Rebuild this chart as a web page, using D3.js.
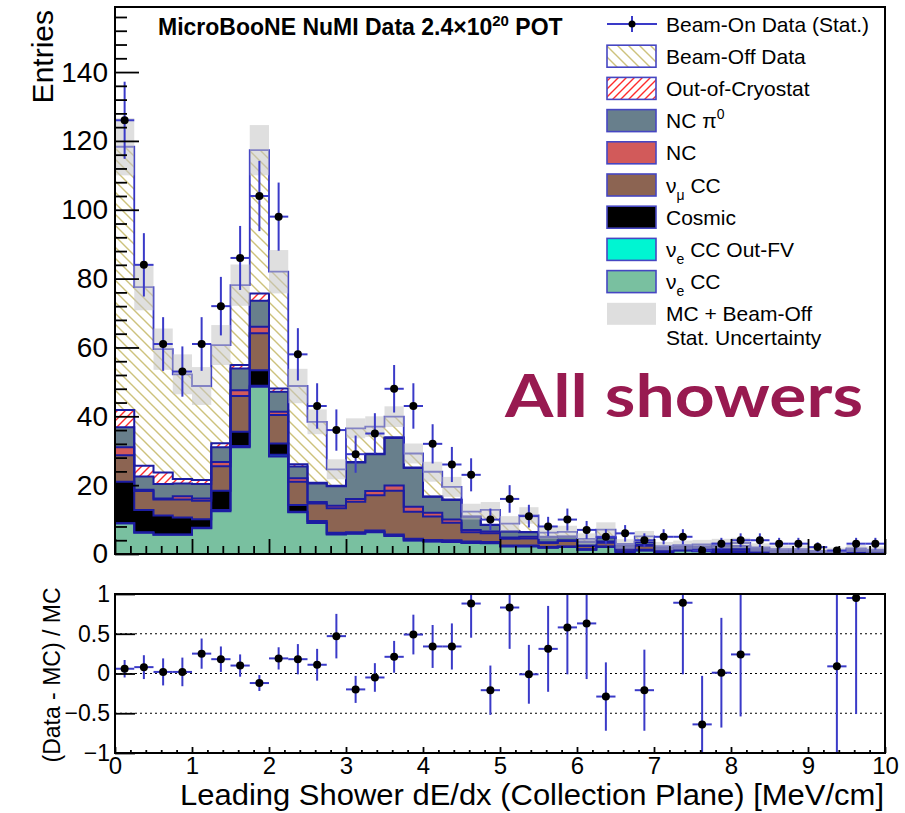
<!DOCTYPE html>
<html><head><meta charset="utf-8">
<script src="https://cdn.jsdelivr.net/npm/d3@7"></script>
<style>body{margin:0;background:#fff}svg{display:block;font-family:"Liberation Sans",Arial,Helvetica,sans-serif}</style>
</head><body><svg id="c" width="905" height="813"></svg>
<script>
// ---------- data (40 bins, 0.25 MeV/cm wide, 0..10) ----------
const xMin = 0, xMax = 10, binWidth = 0.25;
const nueCC      = [8.9,6.2,5.6,5.6,7.5,12.4,31.0,48.6,28.3,12.1,9.0,5.7,5.9,6.3,5.2,3.9,3.6,3.5,3.2,3.1,2.2,2.2,1.8,2.0,1.2,2.0,0.6,1.0,0.5,1.0,0.8,0.6,0.5,0.3,0.3,0.3,0.2,0.2,0.4,0.2];
const nueCCOutFV = [0.0,0.1,0.1,0.1,0.1,0.4,0.4,0.3,0.5,0.2,0.1,0.1,0.1,0.1,0.1,0.1,0.1,0.1,0.1,0.1,0.1,0.1,0.1,0.1,0.1,0.1,0.1,0.1,0.1,0.1,0.1,0.1,0.1,0.1,0.1,0.1,0.1,0.1,0.1,0.1];
const cosmic     = [12.1,6.5,5.5,4.9,2.5,5.6,4.1,4.5,3.3,1.9,0.5,0.4,0.3,0.4,0.4,0.4,0.4,0.4,0.3,0.3,0.2,0.2,0.1,0.1,0.1,0.1,0.1,0.1,0.1,0.1,0.1,0.1,0.1,0.1,0.1,0.1,0.1,0.1,0.1,0.1];
const numuCC     = [7.7,5.5,4.6,5.2,5.4,7.1,10.4,10.7,8.3,6.8,5.1,7.1,8.9,10.3,12.7,7.9,6.8,5.1,2.7,2.5,1.9,2.0,1.2,1.6,0.9,1.1,0.7,1.2,0.5,0.3,0.5,0.6,0.6,0.4,0.3,0.3,0.2,0.2,0.3,0.3];
const nc         = [2.3,0.4,0.3,1.0,0.6,1.2,1.7,1.9,0.9,1.0,0.4,0.7,0.8,1.2,1.5,1.4,1.1,0.9,0.7,0.5,0.4,0.5,0.2,0.2,0.2,0.3,0.2,0.3,0.1,0.1,0.1,0.1,0.1,0.1,0.1,0.1,0.1,0.1,0.1,0.1];
const ncPi0      = [5.8,3.8,4.2,3.7,4.2,4.3,6.3,7.6,5.8,3.4,5.4,5.7,10.6,10.7,13.8,11.3,4.6,5.7,3.8,1.9,1.7,1.3,1.5,1.0,1.0,1.2,0.6,0.8,0.5,0.5,0.5,0.7,0.8,0.4,0.2,0.2,0.1,0.1,0.3,0.2];
const outOfCryo  = [5.0,3.1,3.4,1.3,1.2,1.2,1.0,2.1,1.0,0.7,0.2,0.1,0.1,0.1,0.2,0.1,0.1,0.1,0.1,0.1,0.1,0.1,0.1,0.1,0.1,0.1,0.1,0.1,0.1,0.1,0.1,0.1,0.1,0.1,0.1,0.1,0.0,0.0,0.1,0.1];
const beamOff    = [76.5,51.9,35.8,30.4,27.3,28.5,23.2,41.6,33.9,22.7,17.7,4.8,9.8,7.9,6.0,4.1,7.2,3.7,1.4,4.3,2.2,4.8,1.2,1.3,0.8,2.2,0.5,1.5,0.4,0.4,0.6,0.7,0.9,0.4,0.2,0.2,0.1,0.15,0.2,0.2];
const mcStatErr  = [8.3,6.7,6.0,5.8,5.5,5.8,6.0,7.3,6.3,5.0,3.6,2.9,2.9,3.0,3.0,2.9,2.9,2.9,2.3,2.3,2.2,2.4,1.8,1.8,1.6,2.1,1.4,1.6,1.2,1.3,1.3,1.4,1.5,1.2,1.1,1.1,0.9,0.9,1.0,0.9];
const beamOnData = [126,84,61,53,61,72,86,104,98,58,43,36,29,35,48,43,32,26,23,10,16,11,8,10,7,5,6,4,5,5,1,3,4,4,3,3,2,1,3,3];
const beamOnErr  = [11.2,9.2,7.8,7.3,7.8,8.5,9.3,10.2,9.9,7.6,6.6,6.0,5.4,5.9,6.9,6.6,5.7,5.1,4.8,3.2,4.0,3.3,2.8,3.2,2.6,2.2,2.4,2.0,2.2,2.2,1.0,1.7,2.0,2.0,1.7,1.7,1.4,1.0,1.7,1.7];
const ratioVals  = [0.06,0.08,0.02,0.02,0.25,0.18,0.10,-0.12,0.19,0.18,0.11,0.47,-0.20,-0.05,0.21,0.49,0.34,0.34,0.88,-0.21,0.83,-0.01,0.31,0.58,0.63,-0.29,null,-0.21,null,0.89,-0.64,0.01,0.24,null,null,null,null,0.09,0.95,null];
const ratioErrs  = [0.11,0.15,0.17,0.18,0.19,0.16,0.14,0.10,0.14,0.19,0.20,0.28,0.17,0.18,0.20,0.25,0.27,0.29,0.43,0.31,0.52,0.37,0.54,0.59,0.70,0.43,null,0.51,null,0.90,0.61,0.69,0.78,null,null,null,null,1.2,1.46,null];
const yTopTicks   = [0,20,40,60,80,100,120,140];
const xTicks      = [0,1,2,3,4,5,6,7,8,9,10];
const ratioTicks  = [-1,-0.5,0,0.5,1];
const ratioLabels = ["\u22121","\u22120.5","0","0.5","1"];

const nBins = beamOnData.length;
const edges = d3.range(nBins + 1).map(i => xMin + i * binWidth);

const svg = d3.select("#c");
const defs = svg.append("defs");

// hatch patterns
const pOff = defs.append("pattern").attr("id","hOff").attr("patternUnits","userSpaceOnUse").attr("width",11).attr("height",11);
pOff.append("rect").attr("width",11).attr("height",11).attr("fill","#fff");
pOff.append("path").attr("d","M0,0L11,11M-2,9L2,13M9,-2L13,2").attr("stroke","#cdc27c").attr("stroke-width",1.4);
const pCr = defs.append("pattern").attr("id","hCryo").attr("patternUnits","userSpaceOnUse").attr("width",8).attr("height",8);
pCr.append("rect").attr("width",8).attr("height",8).attr("fill","#fff");
pCr.append("path").attr("d","M0,8L8,0M-2,2L2,-2M6,10L10,6").attr("stroke","#ff2b2b").attr("stroke-width",1.4);

const L = 115, R = 885, T1 = 7, B1 = 554, T2 = 594, B2 = 753;
defs.append("clipPath").attr("id","clipTop").append("rect").attr("x",L).attr("y",T1).attr("width",R-L).attr("height",B1-T1);
defs.append("clipPath").attr("id","clipRat").append("rect").attr("x",L).attr("y",T2).attr("width",R-L).attr("height",B2-T2);

const x = d3.scaleLinear([xMin, xMax], [L, R]);
const y = d3.scaleLinear([0, 158.9], [B1, T1]);
const yr = d3.scaleLinear([-1, 1], [B2, T2]);

// ---------- stack ----------
const keys = ["nueCC","nueCCOutFV","cosmic","numuCC","nc","ncPi0","outOfCryo","beamOff"];
const src = {nueCC, nueCCOutFV, cosmic, numuCC, nc, ncPi0, outOfCryo, beamOff};
const fills = {nueCC:"#79c0a0", nueCCOutFV:"#00f5d2", cosmic:"#000000", numuCC:"#8c6452",
  nc:"#d25a5a", ncPi0:"#687f8c", outOfCryo:"url(#hCryo)", beamOff:"url(#hOff)"};
const table = d3.range(nBins).map(i => { const r = {}; keys.forEach(k => r[k] = src[k][i]); return r; });
const series = d3.stack().keys(keys)(table);

const gTop = svg.append("g").attr("clip-path","url(#clipTop)");
const area = d3.area().x(d => x(d.x)).y0(d => y(d.y0)).y1(d => y(d.y1)).curve(d3.curveStepAfter);
const line = d3.line().x(d => x(d.x)).y(d => y(d.y)).curve(d3.curveStepAfter);

series.forEach(s => {
  const pts = s.map((d, i) => ({x: edges[i], y0: d[0], y1: d[1]}));
  pts.push({x: edges[nBins], y0: s[nBins-1][0], y1: s[nBins-1][1]});
  gTop.append("path").attr("d", area(pts)).attr("fill", fills[s.key]).attr("stroke","none");
});
series.forEach(s => {
  const pts = [{x: edges[0], y: 0}].concat(s.map((d, i) => ({x: edges[i], y: d[1]})));
  pts.push({x: edges[nBins], y: s[nBins-1][1]}); pts.push({x: edges[nBins], y: 0});
  const top = s.key === "beamOff";
  gTop.append("path").attr("d", line(pts)).attr("fill","none")
    .attr("stroke", top ? "#3434c4" : "#1c1ca2").attr("stroke-width", top ? 1.8 : 2);
});

// stat uncertainty band
const totals = series[series.length-1].map(d => d[1]);
gTop.selectAll("rect.unc").data(d3.range(nBins)).join("rect").attr("class","unc")
  .attr("x", i => x(edges[i])).attr("width", i => x(edges[i+1]) - x(edges[i]))
  .attr("y", i => y(totals[i] + mcStatErr[i]))
  .attr("height", i => y(totals[i] - mcStatErr[i]) - y(totals[i] + mcStatErr[i]))
  .attr("fill","#c4c4c4").attr("fill-opacity",0.55);

// data points
const errCol = "#3a3ac8";
const gData = svg.append("g").attr("clip-path","url(#clipTop)");
d3.range(nBins).forEach(i => {
  const cx = x((edges[i] + edges[i+1]) / 2), cy = y(beamOnData[i]);
  gData.append("line").attr("x1", x(edges[i])).attr("x2", x(edges[i+1])).attr("y1", cy).attr("y2", cy).attr("stroke", errCol).attr("stroke-width", 2);
  gData.append("line").attr("x1", cx).attr("x2", cx).attr("y1", y(beamOnData[i] - beamOnErr[i])).attr("y2", y(beamOnData[i] + beamOnErr[i])).attr("stroke", errCol).attr("stroke-width", 2);
  gData.append("circle").attr("cx", cx).attr("cy", cy).attr("r", 4).attr("fill", "#000");
});

// ---------- axes top ----------
function styleAxis(g, fs) {
  g.select(".domain").remove();
  g.selectAll(".tick line").attr("stroke","#000").attr("stroke-width",1.8);
  g.selectAll(".tick text").attr("fill","#000").attr("font-size", fs).attr("font-family",'"Liberation Sans",Arial,sans-serif');
}
const minorY = d3.range(0, 157, 4).filter(v => v % 20 !== 0);
styleAxis(svg.append("g").attr("transform",`translate(${L},0)`).call(d3.axisLeft(y).tickValues(minorY).tickSize(-12).tickFormat("")), 0);
styleAxis(svg.append("g").attr("transform",`translate(${L},0)`).call(d3.axisLeft(y).tickValues(yTopTicks).tickSize(-24).tickPadding(7).tickFormat(d3.format("d"))), 28);
const minorX = d3.range(0, 50).map(i => i * 0.2).filter((v, i) => i % 5 !== 0);
styleAxis(svg.append("g").attr("transform",`translate(0,${B1})`).call(d3.axisBottom(x).tickValues(minorX).tickSize(-8).tickFormat("")), 0);
styleAxis(svg.append("g").attr("transform",`translate(0,${B1})`).call(d3.axisBottom(x).tickValues(xTicks).tickSize(-15).tickFormat("")), 0);
svg.append("rect").attr("x",L).attr("y",T1).attr("width",R-L).attr("height",B1-T1).attr("fill","none").attr("stroke","#000").attr("stroke-width",2);

svg.append("text").attr("transform","translate(53,10) rotate(-90)").attr("text-anchor","end")
  .attr("font-size",30).text("Entries");

// title
const tt = svg.append("text").attr("x",158).attr("y",35).attr("font-size",23).attr("font-weight","bold");
tt.append("tspan").text("MicroBooNE NuMI Data 2.4\u00d710");
tt.append("tspan").attr("dy",-9).attr("font-size",15).text("20");
tt.append("tspan").attr("dy",9).text(" POT");

// All showers
svg.append("text").attr("x",505).attr("y",417).attr("font-size",60).attr("font-weight","bold")
  .attr("font-family","Lato, 'Open Sans', sans-serif").attr("fill","#981a50")
  .attr("textLength",358).attr("lengthAdjust","spacingAndGlyphs").text("All showers");

// ---------- legend ----------
const lgX = 607, lgW = 49, lgT = 666;
const lgY = i => 24 + 32.2 * i;
const leg = svg.append("g").attr("font-size",21);
leg.append("line").attr("x1",lgX).attr("x2",lgX+50).attr("y1",lgY(0)).attr("y2",lgY(0)).attr("stroke",errCol).attr("stroke-width",2);
leg.append("line").attr("x1",lgX+25).attr("x2",lgX+25).attr("y1",lgY(0)-8).attr("y2",lgY(0)+8).attr("stroke",errCol).attr("stroke-width",2);
leg.append("circle").attr("cx",lgX+25).attr("cy",lgY(0)).attr("r",3.5).attr("fill","#000");
leg.append("text").attr("x",lgT).attr("y",lgY(0)+7.5).text("Beam-On Data (Stat.)");
const legItems = [
  {k:"beamOff", t:[["Beam-Off Data"]]},
  {k:"outOfCryo", t:[["Out-of-Cryostat"]]},
  {k:"ncPi0", t:[["NC \u03c0"],["0","sup"]]},
  {k:"nc", t:[["NC"]]},
  {k:"numuCC", t:[["\u03bd"],["\u03bc","sub"],[" CC"]]},
  {k:"cosmic", t:[["Cosmic"]]},
  {k:"nueCCOutFV", t:[["\u03bd"],["e","sub"],[" CC Out-FV"]]},
  {k:"nueCC", t:[["\u03bd"],["e","sub"],[" CC"]]}
];
legItems.forEach((it, j) => {
  const cy = lgY(j + 1);
  leg.append("rect").attr("x",lgX).attr("y",cy-11).attr("width",lgW).attr("height",22)
    .attr("fill",fills[it.k]).attr("stroke","#4646c2").attr("stroke-width",1.6);
  const t = leg.append("text").attr("x",lgT).attr("y",cy+7.5);
  let shift = 0;
  it.t.forEach(([s, m]) => {
    const sp = t.append("tspan").text(s);
    if (m === "sup") { sp.attr("dy",-9 - shift).attr("font-size",14); shift = -9; }
    else if (m === "sub") { sp.attr("dy",7 - shift).attr("font-size",14); shift = 7; }
    else if (shift !== 0) { sp.attr("dy",-shift); shift = 0; }
  });
});
const cyU = lgY(9);
leg.append("rect").attr("x",lgX).attr("y",cyU-11).attr("width",lgW).attr("height",22).attr("fill","#dedede");
leg.append("text").attr("x",lgT).attr("y",cyU+7.5).text("MC + Beam-Off");
leg.append("text").attr("x",lgT).attr("y",cyU+31).text("Stat. Uncertainty");

// ---------- ratio panel ----------
const gR = svg.append("g");
[0.5, 0, -0.5].forEach(v => gR.append("line").attr("x1",L).attr("x2",R).attr("y1",yr(v)).attr("y2",yr(v))
  .attr("stroke","#000").attr("stroke-width",1.2).attr("stroke-dasharray","2,3"));
const gRd = svg.append("g").attr("clip-path","url(#clipRat)");
d3.range(nBins).forEach(i => {
  if (ratioVals[i] === null) return;
  const cx = x((edges[i] + edges[i+1]) / 2), cy = yr(ratioVals[i]);
  gRd.append("line").attr("x1", x(edges[i])).attr("x2", x(edges[i+1])).attr("y1", cy).attr("y2", cy).attr("stroke", errCol).attr("stroke-width", 2);
  gRd.append("line").attr("x1", cx).attr("x2", cx).attr("y1", yr(ratioVals[i] - ratioErrs[i])).attr("y2", yr(ratioVals[i] + ratioErrs[i])).attr("stroke", errCol).attr("stroke-width", 2);
  gRd.append("circle").attr("cx", cx).attr("cy", cy).attr("r", 4).attr("fill", "#000");
});
styleAxis(svg.append("g").attr("transform",`translate(${L},0)`).call(d3.axisLeft(yr).tickValues(ratioTicks).tickSize(-20).tickPadding(5).tickFormat((d,i) => ratioLabels[i])), 23);
styleAxis(svg.append("g").attr("transform",`translate(0,${B2})`).call(d3.axisBottom(x).tickValues(minorX).tickSize(-3).tickFormat("")), 0);
styleAxis(svg.append("g").attr("transform",`translate(0,${B2})`).call(d3.axisBottom(x).tickValues(xTicks).tickSize(-6).tickPadding(4).tickFormat(d3.format("d"))), 24);
svg.append("rect").attr("x",L).attr("y",T2).attr("width",R-L).attr("height",B2-T2).attr("fill","none").attr("stroke","#000").attr("stroke-width",2);

svg.append("text").attr("transform","translate(60,675) rotate(-90)").attr("text-anchor","middle")
  .attr("font-size",23).text("(Data - MC) / MC");
svg.append("text").attr("x",884).attr("y",805).attr("text-anchor","end").attr("font-size",29)
  .attr("textLength",704).attr("lengthAdjust","spacingAndGlyphs")
  .text("Leading Shower dE/dx (Collection Plane) [MeV/cm]");
</script></body></html>
